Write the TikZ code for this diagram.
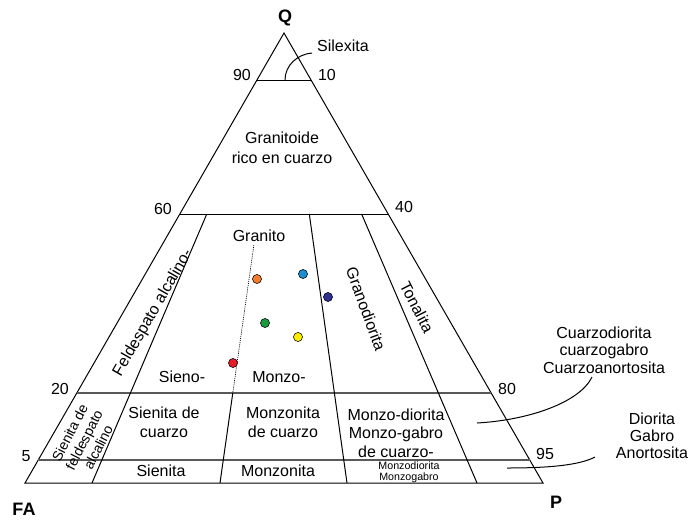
\documentclass[tikz,border=0pt]{standalone}
\usepackage{fontspec}
\setmainfont{Liberation Sans}
\definecolor{dotorange}{RGB}{244,124,48}
\definecolor{dotblue}{RGB}{27,142,208}
\definecolor{dotnavy}{RGB}{46,49,146}
\definecolor{dotgreen}{RGB}{26,154,60}
\definecolor{dotyellow}{RGB}{255,237,0}
\definecolor{dotred}{RGB}{228,30,38}
\tikzset{every picture/.style={line width=0.75pt}}

\begin{document}
\begin{tikzpicture}[x=0.75pt,y=0.75pt,yscale=-1,xscale=1,
  field/.style={font=\fontsize{12}{14}\selectfont, align=center, inner sep=0.75pt},
  tiny field/.style={font=\fontsize{8}{8.2}\selectfont, align=center, inner sep=0.75pt},
  corner/.style={font=\fontsize{13.5}{16}\selectfont\bfseries, inner sep=0.75pt},
  tick/.style={font=\fontsize{12}{14}\selectfont, inner sep=0.75pt},
  limit/.style={draw=black!65, line width=1.1pt},
  sample/.style={circle, draw=black, line width=0.4pt, inner sep=0pt, minimum size=6.8pt}]
\useasboundingbox (0,0) rectangle (690,519);

%Shape: Triangle [id:dp_qap]
\draw   (284,33) -- (543,483) -- (25,483) -- cycle ;
%Straight Lines [id:da_q90]
\draw    (256.9,80) -- (311.1,80) ;
%Straight Lines [id:da_q60]
\draw    (179.8,214) -- (388.2,214) ;
%Straight Lines [id:da_q20]
\draw [limit]   (76.8,393) -- (491.2,393) ;
%Straight Lines [id:da_q5]
\draw [limit]   (38.2,460) -- (529.8,460) ;
%Straight Lines [id:da_p10]
\draw    (206.8,214) -- (92,483) ;
%Straight Lines [id:da_p35]
\draw [line width=0.5pt, dash pattern={on 0.8pt off 0.8pt}]   (253.9,245) -- (232.8,393) ;
\draw    (232.8,393) -- (220,483) ;
%Straight Lines [id:da_p65]
\draw    (309.3,214) -- (347,483) ;
%Straight Lines [id:da_p90]
\draw    (361.6,214) -- (477,483) ;
%Curve Lines [id:da_silexita]
\draw    (285,80) .. controls (285,65) and (298,54) .. (312,53) ;
%Curve Lines [id:da_cuarzodiorita]
\draw    (592,377) .. controls (580,402) and (530,420) .. (477,423) ;
%Curve Lines [id:da_diorita]
\draw    (595,457) .. controls (580,465) and (550,468) .. (507,468) ;

%Samples
\node [sample, fill=dotorange] (s1) at (257,279) {};
\node [sample, fill=dotblue] (s2) at (303,274) {};
\node [sample, fill=dotnavy] (s3) at (328,297) {};
\node [sample, fill=dotgreen] (s4) at (265,323) {};
\node [sample, fill=dotyellow] (s5) at (298,337) {};
\node [sample, fill=dotred] (s6) at (233,363) {};

% Text Node
\draw (285,18) node [corner] (q) {Q};
% Text Node
\draw (24,509) node [corner] (fa) {FA};
% Text Node
\draw (556,502) node [corner] (p) {P};
% Text Node
\draw (242,75) node [tick] (t90) {90};
% Text Node
\draw (327,75) node [tick] (t10) {10};
% Text Node
\draw (163,209) node [tick] (t60) {60};
% Text Node
\draw (404,207) node [tick] (t40) {40};
% Text Node
\draw (60,389) node [tick] (t20) {20};
% Text Node
\draw (507,389) node [tick] (t80) {80};
% Text Node
\draw (26,456) node [tick] (t5) {5};
% Text Node
\draw (545,454) node [tick] (t95) {95};
% Text Node
\draw (343,46) node [field] (silexita) {Silexita};
% Text Node
\draw (282,148) node [field] (granitoide) {Granitoide\\[1pt]rico en cuarzo};
% Text Node
\draw (259,236) node [field] (granito) {Granito};
% Text Node
\draw (153,313) node [field, rotate=60] (feldespato) {Feldespato alcalino-};
% Text Node
\draw (182,377) node [field] (sieno) {Sieno-};
% Text Node
\draw (279,377) node [field] (monzo) {Monzo-};
% Text Node
\draw (366,309) node [field, rotate=-70] (granodiorita) {Granodiorita};
% Text Node
\draw (417,307) node [field, rotate=-63] (tonalita) {Tonalita};
% Text Node
\draw (84,440) node [field, rotate=63, font=\fontsize{10.5}{12}\selectfont] (sfa) {Sienita de\\feldespato\\alcalino};
% Text Node
\draw (164,422) node [field] (sienitacz) {Sienita de\\cuarzo};
% Text Node
\draw (283,422) node [field] (monzonitacz) {Monzonita\\de cuarzo};
% Text Node
\draw (396,433) node [field] (monzodioritacz) {Monzo-diorita\\Monzo-gabro\\de cuarzo-};
% Text Node
\draw (161,471) node [field] (sienita) {Sienita};
% Text Node
\draw (278,471) node [field] (monzonita) {Monzonita};
% Text Node
\draw (409,472) node [tiny field] (monzodiorita) {Monzodiorita\\Monzogabro};
% Text Node
\draw (604,350) node [field, font=\fontsize{12}{13.2}\selectfont] (cuarzodiorita) {Cuarzodiorita\\cuarzogabro\\Cuarzoanortosita};
% Text Node
\draw (652,436) node [field, font=\fontsize{12}{12.8}\selectfont] (diorita) {Diorita\\Gabro\\Anortosita};

\end{tikzpicture}
\end{document}
